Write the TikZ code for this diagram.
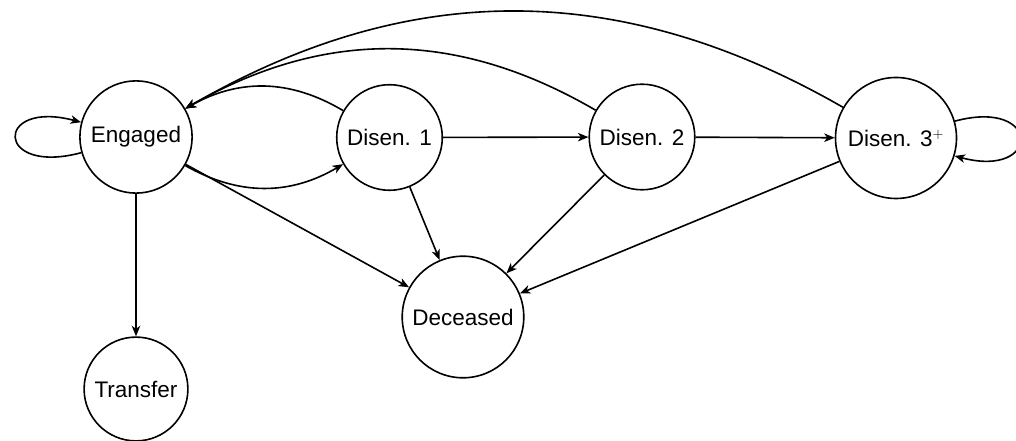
\documentclass[tikz,border=0pt]{standalone}
\usepackage{fontspec}
\setmainfont{Liberation Sans}
\usetikzlibrary{arrows.meta}
\begin{document}
\begin{tikzpicture}[x=1pt,y=1pt,
  stnode/.style={circle,draw,line width=1.6pt,inner sep=8pt,
    font=\fontsize{22.5}{27}\selectfont},
  edge/.style={line width=1.6pt,-{Stealth[length=10.5pt,width=8.5pt,inset=3pt]}}]
\useasboundingbox (0,0) rectangle (1016,441);

% states
\node[stnode] (eng) at (136,304) {Engaged};
\node[stnode] (d1)  at (389.5,303.5) {Disen. 1};
\node[stnode] (d2)  at (642,304) {Disen. 2};
\node[stnode,minimum size=121pt] (d3) at (896,303) {Disen. 3$^{+}$};
\node[stnode] (dec) at (463,124) {Deceased};
\node[stnode] (tra) at (136,52) {Transfer};

% self loops
\draw[edge] (eng.196) to[out=195,in=165,distance=90pt] (eng.165);
\draw[edge] (d3.16) to[out=15,in=-15,distance=90pt] (d3.-17);

% forward transitions
\draw[edge] (eng) to[bend right] (d1);
\draw[edge] (d1) -- (d2);
\draw[edge] (d2) -- (d3);

% returns to engagement
\draw[edge] (d1) to[bend right] (eng);
\draw[edge] (d2) to[bend right] (eng);
\draw[edge] (d3) to[bend right] (eng);

% absorbing states
\draw[edge] (eng) -- (dec);
\draw[edge] (d1) -- (dec);
\draw[edge] (d2) -- (dec);
\draw[edge] (d3) -- (dec);
\draw[edge] (eng) -- (tra);
\end{tikzpicture}
\end{document}
